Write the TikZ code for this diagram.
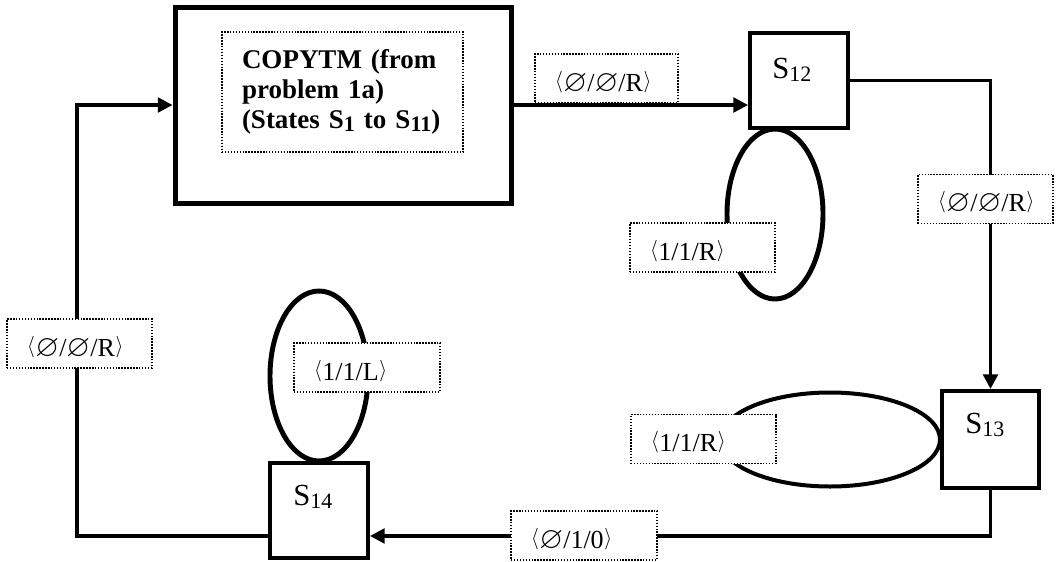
\documentclass[tikz,border=0pt]{standalone}
\usepackage{fontspec}
\setmainfont{Liberation Serif}
\usepackage{amssymb}
\usepackage{graphicx}
\usetikzlibrary{arrows.meta,calc}
\newcommand{\mysub}[1]{\raisebox{-2.3pt}{\fontsize{16.5}{18}\selectfont #1}}
\newcommand{\myla}{\raisebox{3pt}{\scalebox{0.72}[0.78]{$\langle$}}\kern0.5pt}
\newcommand{\myra}{\kern0.5pt\raisebox{3pt}{\scalebox{0.72}[0.78]{$\rangle$}}}
\newcommand{\myes}{\raisebox{-0.3pt}{\scalebox{1.18}{$\varnothing$}}}
\tikzset{
 conn/.style={line width=2.5pt},
 arr/.style={-{Triangle[length=11pt,width=11pt]}},
 bigbox/.style={draw, line width=3.75pt, minimum width=252pt, minimum height=147pt, inner sep=0pt},
 innerbox/.style={draw, dash pattern=on 1.1pt off 1.1pt, line width=1.1pt, minimum height=90pt, text width=150.75pt, inner xsep=15pt, inner ysep=0pt, align=left, font=\bfseries\fontsize{20.25}{22.5}\selectfont},
 statebox/.style={draw, line width=3pt, minimum width=73.5pt, minimum height=71.25pt, inner sep=0pt},
 stlabel/.style={anchor=base west, inner sep=0pt, font=\fontsize{23}{27}\selectfont},
 edgelabel/.style={draw, dash pattern=on 1.1pt off 1.1pt, line width=1.1pt, fill=white, minimum height=36.75pt, text height=18.75pt, text depth=0pt, align=left, inner xsep=15pt, inner ysep=0pt, font=\fontsize{19.5}{23}\selectfont},
 loopline/.style={line width=3.7pt},
}
\begin{document}
\begin{tikzpicture}[x=0.75pt,y=-0.75pt]
\useasboundingbox (0,0) rectangle (1056,561);
% states
\node[bigbox] (big) at (343,105) {};
\node[innerbox] (cm) at (342.5,92) {COPYTM (from\\problem 1a)\\(States S\mysub{1} to S\mysub{11})};
\node[statebox] (s12) at (799,80.5) {};
\node[stlabel] (s12t) at (772,78) {S\mysub{12}};
\node[statebox, minimum width=72.75pt, minimum height=72.75pt] (s13) at (990.5,439.5) {};
\node[stlabel] (s13t) at (965,433) {S\mysub{13}};
\node[statebox] (s14) at (319,510.5) {};
\node[stlabel] (s14t) at (293,505) {S\mysub{14}};
% self loops
\draw[loopline] ($(s12.south)+(-24,84)$) ellipse [x radius=36pt, y radius=63.75pt];
\draw[loopline, line width=3pt] ($(s13.west)+(-110,0)$) ellipse [x radius=82.5pt, y radius=35.25pt];
\draw[loopline] ($(s14.north)+(0,-85)$) ellipse [x radius=36.75pt, y radius=63.75pt];
% connectors
\draw[conn,arr] (big.east) -- (big.east -| s12.west);
\draw[conn,arr] (s12.east) -| (s13.north);
\draw[conn,arr] (s13.south) |- ([yshift=-19.1pt]s14.east);
\draw[conn,arr] ([yshift=-19.1pt]s14.west) -- ++(-191,0) |- (big.west);
% labels
\node[edgelabel, text width=77.25pt] (l1) at (606.5,78.5) {\myla\myes/\myes/R\myra};
\node[edgelabel, text width=71.25pt] (l2) at (985.5,199) {\myla\myes/\myes/R\myra};
\node[edgelabel, text width=78.75pt] (l3) at (702.5,247.5) {\myla 1/1/R\myra};
\node[edgelabel, text width=78.75pt] (l4) at (703.5,439) {\myla 1/1/R\myra};
\node[edgelabel, text width=79.5pt] (l5) at (584,535.5) {\myla\myes/1/0\myra};
\node[edgelabel, text width=79.5pt] (l6) at (367,367.5) {\myla 1/1/L\myra};
\node[edgelabel, text width=78.75pt] (l7) at (79.5,343.5) {\myla\myes/\myes/R\myra};
\end{tikzpicture}
\end{document}
